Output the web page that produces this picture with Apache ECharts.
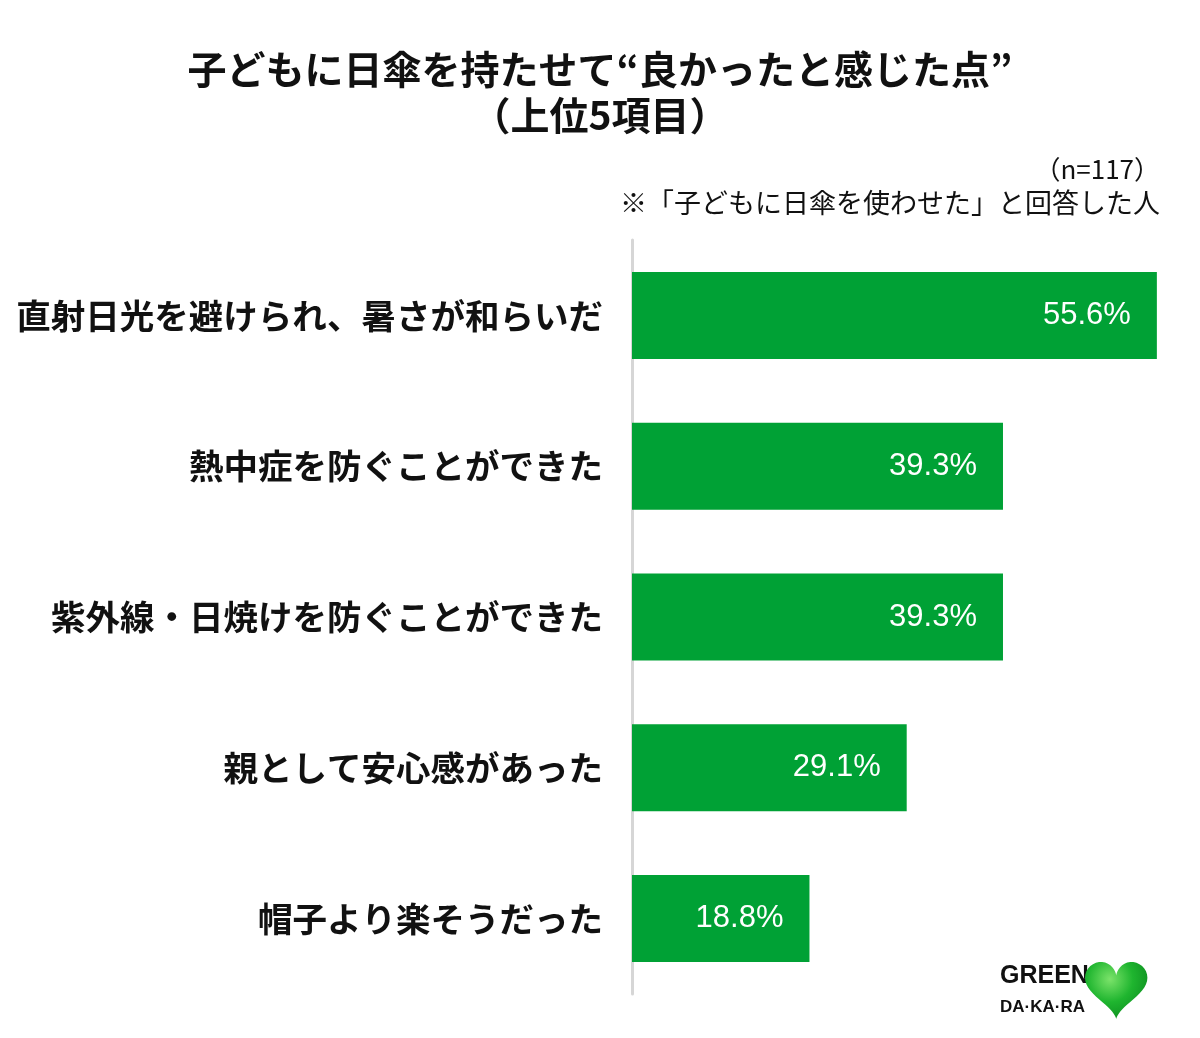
<!DOCTYPE html>
<html><head><meta charset="utf-8">
<script src="https://cdn.jsdelivr.net/npm/echarts@6/dist/echarts.min.js"></script>
<style>html,body{margin:0;padding:0;background:#fff}#c{width:1200px;height:1038px}</style>
</head><body><div id="c"></div>
<script>
const categories = ['直射日光を避けられ、暑さが和らいだ','熱中症を防ぐことができた','紫外線・日焼けを防ぐことができた','親として安心感があった','帽子より楽そうだった'];
const values = [55.6, 39.3, 39.3, 29.1, 18.8];
const titleLines = ['子どもに日傘を持たせて“良かったと感じた点”', '（上位5項目）'];
const noteN = '（n=117）';
const noteWho = '※「子どもに日傘を使わせた」と回答した人';

// heart outline for the logo (decoration only)
const heartPts = [];
for (let i = 0; i < 72; i++) {
  const t = i / 72 * Math.PI * 2;
  const x = 16 * Math.pow(Math.sin(t), 3);
  const y = 13 * Math.cos(t) - 5 * Math.cos(2 * t) - 2 * Math.cos(3 * t) - Math.cos(4 * t);
  heartPts.push([x * 1.95, -y * 1.98]);
}

const chart = echarts.init(document.getElementById('c'));
const jp = '"Noto Sans CJK JP", sans-serif';
chart.setOption({
  backgroundColor: '#fff',
  animation: false,
  title: [
    {text: titleLines[0], left: 'center', top: 45, textStyle: {fontFamily: jp, fontSize: 39, fontWeight: 'bold', color: '#111'}},
    {text: titleLines[1], left: 'center', top: 91, textStyle: {fontFamily: jp, fontSize: 39, fontWeight: 'bold', color: '#111'}}
  ],
  graphic: [
    {type: 'text', right: 40, top: 156, style: {text: noteN, font: '26px "Noto Sans CJK JP"', fill: '#111'}},
    {type: 'text', right: 40, top: 189, style: {text: noteWho, font: '27px "Noto Sans CJK JP"', fill: '#111'}},
    {type: 'text', left: 1000, top: 964, style: {text: 'GREEN', font: 'bold 25px "Liberation Sans", sans-serif', fill: '#111'}},
    {type: 'text', left: 1000, top: 999, style: {text: 'DA·KA·RA', font: 'bold 17px "Liberation Sans", sans-serif', fill: '#111'}},
    {type: 'polygon', left: 1085, top: 962, shape: {points: heartPts},
      style: {fill: {type: 'radial', x: 0.4, y: 0.3, r: 0.8, colorStops: [{offset: 0, color: '#7be36a'}, {offset: 0.5, color: '#1fb52f'}, {offset: 1, color: '#0b8a1e'}]}}}
  ],
  grid: {left: 632, top: 240, width: 566.4, height: 754, containLabel: false},
  xAxis: {type: 'value', min: 0, max: 60, show: false},
  yAxis: {
    type: 'category', data: categories, inverse: true,
    axisLine: {show: true, lineStyle: {color: '#d6d6d6', width: 3}},
    axisTick: {show: false},
    axisLabel: {fontFamily: jp, fontSize: 34.5, fontWeight: 'bold', color: '#111', margin: 29}
  },
  series: [{
    type: 'bar', data: values, barWidth: 87,
    itemStyle: {color: '#00a135'},
    label: {show: true, position: 'insideRight', distance: 26, color: '#fff',
      fontFamily: '"Liberation Sans", sans-serif', fontSize: 31,
      formatter: p => p.value.toFixed(1) + '%'}
  }]
});
</script></body></html>
